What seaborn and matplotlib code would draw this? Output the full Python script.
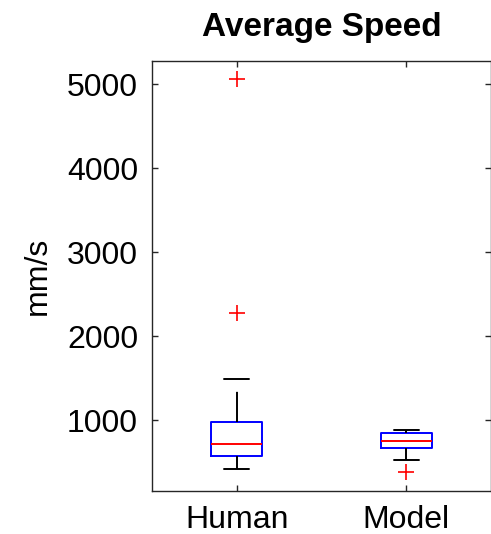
import numpy as np
import matplotlib
matplotlib.use("Agg")
import matplotlib.pyplot as plt
import seaborn as sns
import pandas as pd

# -----------------------------
# Data (average speed, mm/s)
# -----------------------------
groups = ["Human", "Model"]

human_speed = [413, 480, 540, 575, 620, 680, 711, 780, 900, 973, 1485, 2274, 5060]
model_speed = [380, 520, 600, 665, 700, 730, 754, 790, 820, 845, 860, 870, 877]

yticks = [1000, 2000, 3000, 4000, 5000]

df = pd.DataFrame({
    "group": ["Human"] * len(human_speed) + ["Model"] * len(model_speed),
    "speed": human_speed + model_speed,
})

# -----------------------------
# Plot
# -----------------------------
sns.set_style("white")
plt.rcParams["font.family"] = ["Liberation Sans", "DejaVu Sans"]
plt.rcParams["text.color"] = "black"
plt.rcParams["axes.labelcolor"] = "black"
plt.rcParams["xtick.color"] = "black"
plt.rcParams["ytick.color"] = "black"

fig = plt.figure(figsize=(4.91, 5.34), dpi=100)
ax = fig.add_axes([0.3096, 0.0805, 0.6904, 0.8052])

# matlab-ish look: blue box, red median, dashed black whiskers, red + fliers
sns.boxplot(
    data=df, x="group", y="speed", order=groups,
    ax=ax, width=0.3, fill=False, color="black", linewidth=1.4,
    boxprops=dict(color="blue"),
    medianprops=dict(color="red"),
    whiskerprops=dict(color="black", linestyle=(0, (15.5, 7.5))),
    capprops=dict(color="black"),
    flierprops=dict(marker="+", markeredgecolor="red", markersize=12,
                    markeredgewidth=1.2),
)

ax.set_xlim(-0.5, 1.5)
ax.set_ylim(154, 5278)
ax.set_yticks(yticks)
ax.set_title("Average Speed", fontsize=24, fontweight="bold", pad=18,
             color="black")
ax.set_ylabel("mm/s", fontsize=23, labelpad=10, color="black")
ax.set_xlabel("")
ax.tick_params(axis="both", which="both", direction="in", length=4, width=1,
               labelsize=23, top=True, right=True, bottom=True, left=True,
               color="#262626", labelcolor="black", pad=10)
for sp in ax.spines.values():
    sp.set_visible(True)
    sp.set_color("#262626")
    sp.set_linewidth(1.0)

fig.savefig("out.png", dpi=100)
